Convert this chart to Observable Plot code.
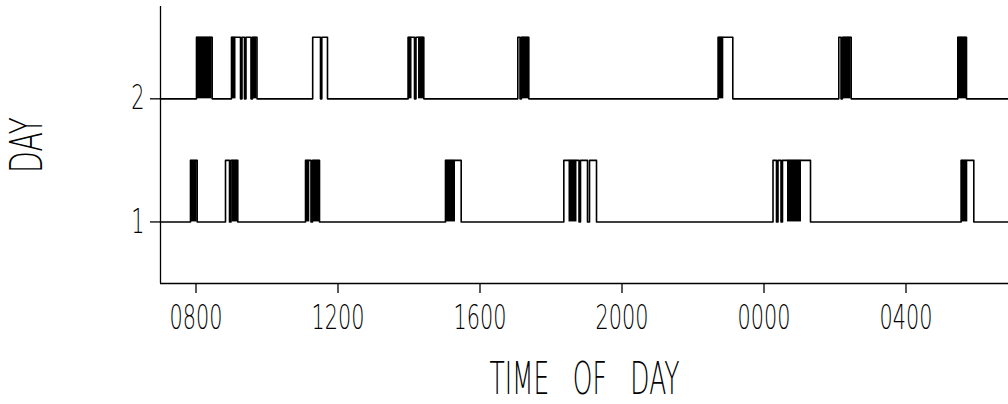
<!DOCTYPE html>
<html><head><meta charset="utf-8">
<script src="https://cdn.jsdelivr.net/npm/d3@7"></script>
<script src="https://cdn.jsdelivr.net/npm/@observablehq/plot@0.6"></script>
<style>
html,body{margin:0;padding:0;background:#fff;overflow:hidden;}
svg text{font-family:"DejaVu Sans",sans-serif;font-weight:300;}
</style></head><body><div id="chart"></div>
<script>
const days = [1, 2];
const xTicks = [8, 12, 16, 20, 24, 28];
const xLabel = "TIME OF DAY";
const yLabel = "DAY";
// activity bouts [start, end] in hours (values above 24 are after midnight)
const day1Bouts = [[7.845,8.034],[8.831,8.944],[8.986,9.177],[11.085,11.239],[11.282,11.479],[15.028,15.470],[18.361,18.789],[18.831,19.028],[19.085,19.282],[24.254,24.352],[24.394,24.479],[24.521,25.310],[29.555,29.910]];
const day1Dense = [[7.845,8.034],[9.014,9.177],[11.085,11.206],[11.310,11.479],[15.028,15.310],[18.507,18.732],[24.662,25.056],[29.555,29.741]];
const day2Bouts = [[8.014,8.456],[9.0,9.254],[9.296,9.366],[9.408,9.549],[9.592,9.718],[11.287,11.507],[11.544,11.704],[13.977,14.155],[14.197,14.417],[17.065,17.127],[17.169,17.375],[22.710,23.121],[26.107,26.169],[26.211,26.456],[29.459,29.704]];
const day2Dense = [[8.014,8.456],[9.0,9.127],[9.592,9.718],[13.977,14.085],[14.268,14.417],[17.169,17.375],[22.710,22.868],[26.239,26.456],[29.459,29.704]];
const tStart = 7, tEnd = 31, pulse = 0.5;

function steps(bouts, day) {
  const pts = [{t: tStart, y: day}];
  for (const [s, e] of bouts) pts.push({t: s, y: day}, {t: s, y: day + pulse}, {t: e, y: day + pulse}, {t: e, y: day});
  pts.push({t: tEnd, y: day});
  return pts;
}
const lines = [...steps(day1Bouts, 1).map(d => ({...d, day: 1})), ...steps(day2Bouts, 2).map(d => ({...d, day: 2}))];
const dense = [...day1Dense.map(([s, e]) => ({s, e, day: 1})), ...day2Dense.map(([s, e]) => ({s, e, day: 2}))];

const chart = Plot.plot({
  width: 1008, height: 404,
  marginLeft: 160, marginRight: 0, marginTop: 6, marginBottom: 121,
  style: {background: "#fff", color: "#000", fontFamily: "'DejaVu Sans', sans-serif"},
  x: {domain: [tStart, tEnd], range: [160, 1012]},
  y: {domain: [0.5, 2.75]},
  marks: [
    Plot.rect(dense, {x1: "s", x2: "e", y1: "day", y2: d => d.day + pulse, fill: "#000"}),
    Plot.line(lines, {x: "t", y: "y", z: "day", stroke: "#000", strokeWidth: 1.6, curve: "linear"}),
    Plot.ruleY([0.5], {stroke: "#000", strokeWidth: 1.3}),
    Plot.ruleX([tStart], {stroke: "#000", strokeWidth: 1.3}),
    Plot.axisX({ticks: xTicks, tickFormat: d => String(d % 24).padStart(2, "0") + "00", tickSize: 10, tickPadding: 12, fontSize: 33, label: null, strokeWidth: 1.3, fill: "#000"}),
    Plot.axisY({ticks: days, tickFormat: d => String(d), tickSize: 10, tickPadding: 6, fontSize: 33, label: null, strokeWidth: 1.3, fill: "#000"}),
    Plot.text([xLabel], {frameAnchor: "bottom", textAnchor: "middle", dy: 96, lineAnchor: "middle", fontSize: 45, fill: "#000", className: "xlab"}),
    Plot.text([yLabel], {frameAnchor: "left", textAnchor: "middle", dx: -133, rotate: -90, lineAnchor: "middle", fontSize: 45, fill: "#000", className: "ylab"})
  ]
});
document.getElementById("chart").appendChild(chart);
chart.querySelectorAll(".xlab text").forEach(el => el.style.wordSpacing = "28px");
chart.querySelectorAll("text").forEach(el => {
  const L = el.getComputedTextLength();
  if (!(L > 0)) return;
  const f = el.closest(".xlab") ? 190 / L : 0.63;
  const ax = el.x.baseVal.numberOfItems ? el.x.baseVal.getItem(0).value : 0;
  const ay = el.y.baseVal.numberOfItems ? el.y.baseVal.getItem(0).value : 0;
  const t = el.getAttribute("transform") || "";
  el.setAttribute("transform", `${t} translate(${ax},${ay}) scale(${f.toFixed(3)},1) translate(${-ax},${-ay})`.trim());
});
</script></body></html>
